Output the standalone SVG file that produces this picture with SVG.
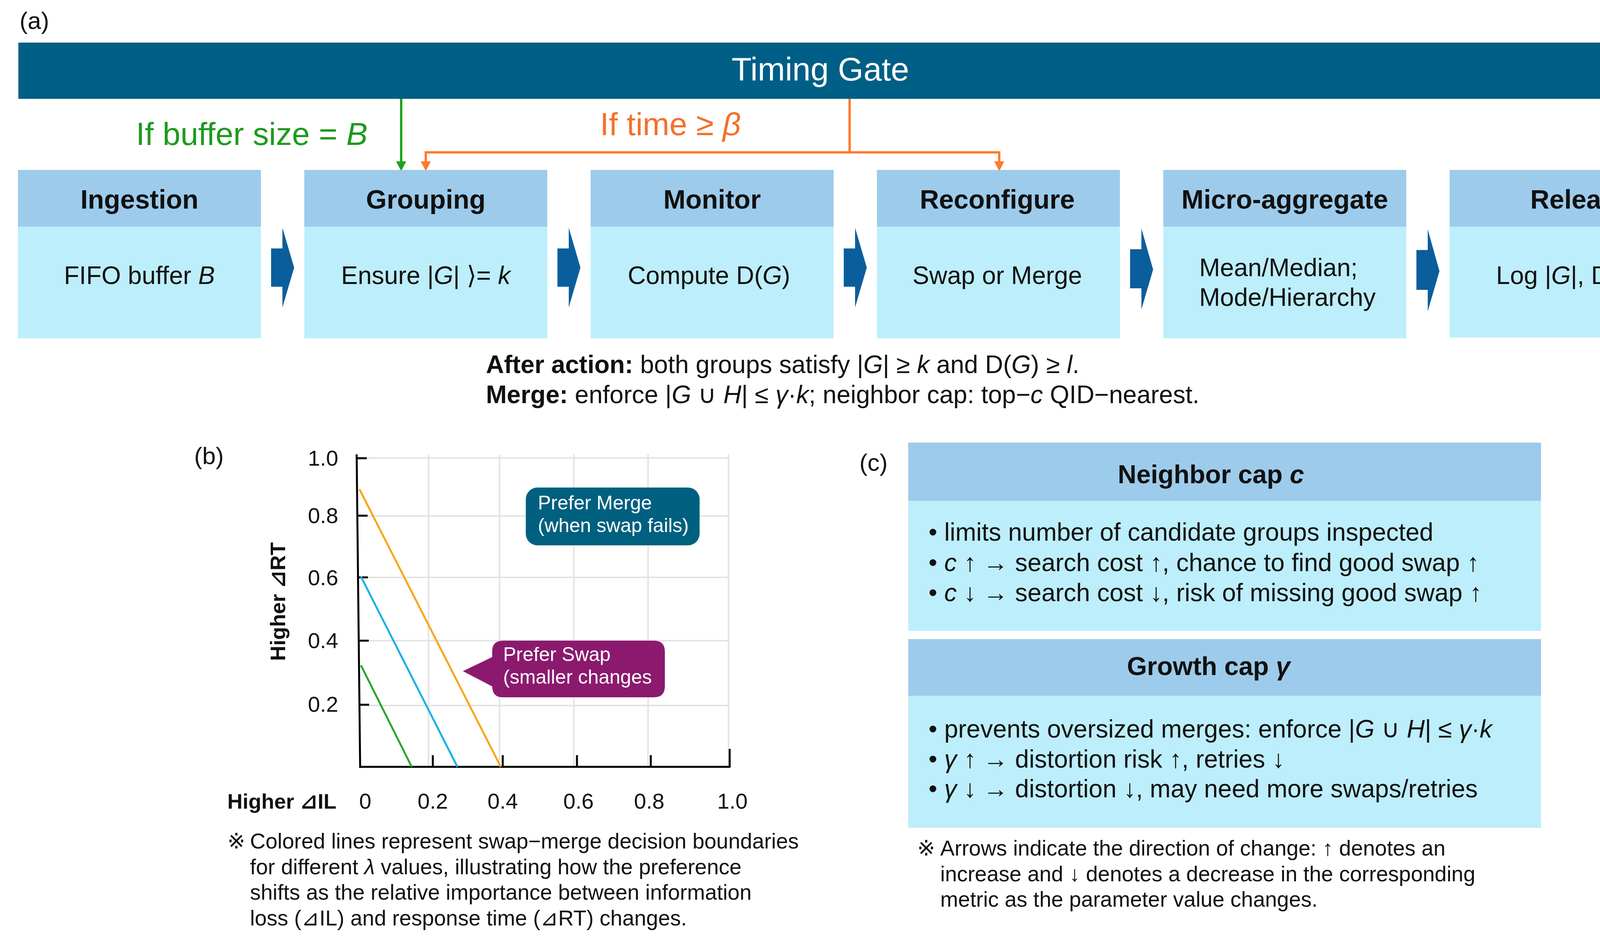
<svg xmlns="http://www.w3.org/2000/svg" width="4365" height="2396" viewBox="0 0 4365 2396">
<defs>
<style>
text{font-family:"Liberation Sans","DejaVu Sans","Noto Sans CJK JP",sans-serif;fill:#111}
.hdr{fill:#9dcbeb}
.bdy{fill:#bdeefb}
.ttl{font-size:68px;font-weight:bold;text-anchor:middle}
.bt{font-size:64px;text-anchor:middle}
.btl{font-size:64px}
.chev{fill:#0b5e9c}
.it{font-style:italic}
.pl{font-size:62px}
.cap{font-size:64px}
.note{font-size:55px}
.grid{stroke:#e4e4e4;stroke-width:4;fill:none}
.axis{stroke:#000;stroke-width:5;fill:none}
.tick{font-size:56px}
.call{font-size:50px;fill:#fff}
</style>
<marker id="hg" markerUnits="userSpaceOnUse" markerWidth="26" markerHeight="26" viewBox="0 0 26 26" refX="0" refY="13" orient="auto"><path d="M0,0 L25,13 L0,26 z" fill="#1ea31e"/></marker>
<marker id="ho" markerUnits="userSpaceOnUse" markerWidth="26" markerHeight="26" viewBox="0 0 26 26" refX="0" refY="13" orient="auto"><path d="M0,0 L25,13 L0,26 z" fill="#ff7a2c"/></marker>
</defs>
<rect width="4365" height="2396" fill="#fff"/>

<!-- Panel (a) -->
<text class="pl" x="50" y="74">(a)</text>

<g id="timing-gate">
<rect x="47" y="109" width="4288" height="144" fill="#005f86"/>
<text x="2100" y="206" font-size="84" text-anchor="middle" style="fill:#fff">Timing Gate</text>
</g>

<g id="connectors">
<path d="M1027,253 V413" stroke="#1ea31e" stroke-width="6" fill="none" marker-end="url(#hg)"/>
<path d="M2175,253 V390 H1090 V413" stroke="#ff7a2c" stroke-width="6" fill="none" marker-end="url(#ho)"/>
<path d="M2175,390 H2558 V413" stroke="#ff7a2c" stroke-width="6" fill="none" marker-end="url(#ho)"/>
<polygon class="chev" points="694,636 723,636 723,583 753,685 723,787 723,734 694,734"/>
<polygon class="chev" points="1427,636 1456,636 1456,583 1486,685 1456,787 1456,734 1427,734"/>
<polygon class="chev" points="2160,636 2189,636 2189,583 2219,685 2189,787 2189,734 2160,734"/>
<polygon class="chev" points="2893,638 2922,638 2922,585 2952,690 2922,792 2922,738 2893,738"/>
<polygon class="chev" points="3626,640 3655,640 3655,587 3685,694 3655,797 3655,742 3626,742"/>
</g>

<g id="cond-labels">
<text x="348" y="371" font-size="82" style="fill:#1e9a1e">If buffer size = <tspan class="it">B</tspan></text>
<text x="1536" y="346" font-size="82" style="fill:#f4702a">If time ≥ <tspan class="it">β</tspan></text>
</g>

<g id="ingestion">
<rect class="hdr" x="46" y="435" width="622" height="145"/>
<rect class="bdy" x="46" y="580" width="622" height="286"/>
<text class="ttl" x="357" y="534">Ingestion</text>
<text class="bt" x="357" y="727">FIFO buffer <tspan class="it">B</tspan></text>
</g>
<g id="grouping">
<rect class="hdr" x="779" y="435" width="622" height="145"/>
<rect class="bdy" x="779" y="580" width="622" height="286"/>
<text class="ttl" x="1090" y="534">Grouping</text>
<text class="bt" x="1090" y="727">Ensure |<tspan class="it">G</tspan>| ⟩= <tspan class="it">k</tspan></text>
</g>
<g id="monitor">
<rect class="hdr" x="1512" y="435" width="622" height="145"/>
<rect class="bdy" x="1512" y="580" width="622" height="286"/>
<text class="ttl" x="1823" y="534">Monitor</text>
<text class="bt" x="1815" y="727">Compute D(<tspan class="it">G</tspan>)</text>
</g>
<g id="reconfigure">
<rect class="hdr" x="2245" y="435" width="622" height="145"/>
<rect class="bdy" x="2245" y="580" width="622" height="286"/>
<text class="ttl" x="2553" y="534">Reconfigure</text>
<text class="bt" x="2553" y="727">Swap or Merge</text>
</g>
<g id="micro-aggregate">
<rect class="hdr" x="2978" y="435" width="622" height="145"/>
<rect class="bdy" x="2978" y="580" width="622" height="286"/>
<text class="ttl" x="3289" y="534">Micro-aggregate</text>
<text class="btl" x="3070" y="707">Mean/Median;</text>
<text class="btl" x="3070" y="783">Mode/Hierarchy</text>
</g>
<g id="release">
<rect class="hdr" x="3711" y="435" width="624" height="145"/>
<rect class="bdy" x="3711" y="580" width="624" height="284"/>
<text class="ttl" x="4046" y="534">Release</text>
<text class="bt" x="4021" y="727">Log |<tspan class="it">G</tspan>|, D(<tspan class="it">G</tspan>)</text>
</g>

<g id="after-action">
<text class="cap" x="1244" y="955"><tspan font-weight="bold">After action:</tspan> both groups satisfy |<tspan class="it">G</tspan>| ≥ <tspan class="it">k</tspan> and D(<tspan class="it">G</tspan>) ≥ <tspan class="it">l</tspan>.</text>
<text class="cap" x="1244" y="1032"><tspan font-weight="bold">Merge:</tspan> enforce |<tspan class="it">G</tspan> ∪ <tspan class="it">H</tspan>| ≤ <tspan class="it">γ</tspan>·<tspan class="it">k</tspan>; neighbor cap: top−<tspan class="it">c</tspan> QID−nearest.</text>
</g>

<!-- Panel (b) -->
<g id="panel-b">
<text class="pl" x="497" y="1188">(b)</text>
<g id="grid">
<path class="grid" d="M1097,1163 V1963 M1279,1163 V1963 M1469,1163 V1963 M1659,1163 V1963 M1865,1163 V1963"/>
<path class="grid" d="M924,1172 H1866 M924,1321 H1866 M924,1478 H1866 M924,1640 H1866 M924,1806 H1866"/>
</g>
<g id="axes">
<path class="axis" d="M913,1163 L922,1966 M920,1963 H1870"/>
<path class="axis" d="M915,1173 H939 M917,1320 H941 M918,1478 H942 M920,1640 H944 M921,1804 H945"/>
<path class="axis" d="M1108,1933 V1963 M1287,1933 V1963 M1477,1933 V1963 M1666,1933 V1963 M1868,1917 V1963"/>
</g>
<g id="boundaries">
<line x1="920" y1="1252" x2="1282" y2="1963" stroke="#f9a51a" stroke-width="5"/>
<line x1="924" y1="1476" x2="1171" y2="1963" stroke="#1ab2e6" stroke-width="5"/>
<line x1="924" y1="1703" x2="1054" y2="1963" stroke="#2aa62a" stroke-width="5"/>
</g>
<g id="y-labels" text-anchor="end">
<text class="tick" x="866" y="1192">1.0</text>
<text class="tick" x="866" y="1339">0.8</text>
<text class="tick" x="866" y="1498">0.6</text>
<text class="tick" x="866" y="1659">0.4</text>
<text class="tick" x="866" y="1822">0.2</text>
</g>
<text transform="translate(730,1540) rotate(-90)" font-size="54" font-weight="bold" text-anchor="middle">Higher ⊿RT</text>
<g id="x-labels" text-anchor="middle">
<text class="tick" x="935" y="2070">0</text>
<text class="tick" x="1108" y="2070">0.2</text>
<text class="tick" x="1287" y="2070">0.4</text>
<text class="tick" x="1481" y="2070">0.6</text>
<text class="tick" x="1662" y="2070">0.8</text>
<text class="tick" x="1875" y="2070">1.0</text>
</g>
<text x="582" y="2070" font-size="54" font-weight="bold">Higher ⊿IL</text>
<g id="prefer-merge">
<rect x="1346" y="1248" width="445" height="148" rx="30" fill="#00607f"/>
<text class="call" x="1377" y="1304">Prefer Merge</text>
<text class="call" x="1377" y="1362">(when swap fails)</text>
</g>
<g id="prefer-swap">
<path d="M1288,1640 H1674 Q1702,1640 1702,1668 V1757 Q1702,1785 1674,1785 H1288 Q1260,1785 1260,1757 L1185,1718 L1260,1682 V1668 Q1260,1640 1288,1640 Z" fill="#8b1a6f"/>
<text class="call" x="1288" y="1692">Prefer Swap</text>
<text class="call" x="1288" y="1750">(smaller changes</text>
</g>
<g id="note-b">
<text class="note" x="582" y="2172">※</text>
<text class="note" x="640" y="2172">Colored lines represent swap−merge decision boundaries</text>
<text class="note" x="640" y="2238">for different <tspan class="it">λ</tspan> values, illustrating how the preference</text>
<text class="note" x="640" y="2303">shifts as the relative importance between information</text>
<text class="note" x="640" y="2369">loss (⊿IL) and response time (⊿RT) changes.</text>
</g>
</g>

<!-- Panel (c) -->
<g id="panel-c">
<text class="pl" x="2200" y="1205">(c)</text>
<g id="neighbor-cap">
<rect class="hdr" x="2325" y="1133" width="1620" height="149"/>
<rect class="bdy" x="2325" y="1282" width="1620" height="333"/>
<text x="3100" y="1237" font-size="66" font-weight="bold" text-anchor="middle">Neighbor cap <tspan class="it">c</tspan></text>
<text class="cap" x="2377" y="1384">• limits number of candidate groups inspected</text>
<text class="cap" x="2377" y="1462">• <tspan class="it">c</tspan> ↑ → search cost ↑, chance to find good swap ↑</text>
<text class="cap" x="2377" y="1539">• <tspan class="it">c</tspan> ↓ → search cost ↓, risk of missing good swap ↑</text>
</g>
<g id="growth-cap">
<rect class="hdr" x="2325" y="1636" width="1620" height="145"/>
<rect class="bdy" x="2325" y="1781" width="1620" height="338"/>
<text x="3094" y="1728" font-size="66" font-weight="bold" text-anchor="middle">Growth cap <tspan class="it">γ</tspan></text>
<text class="cap" x="2377" y="1888">• prevents oversized merges: enforce |<tspan class="it">G</tspan> ∪ <tspan class="it">H</tspan>| ≤ <tspan class="it">γ</tspan>·<tspan class="it">k</tspan></text>
<text class="cap" x="2377" y="1965">• <tspan class="it">γ</tspan> ↑ → distortion risk ↑, retries ↓</text>
<text class="cap" x="2377" y="2041">• <tspan class="it">γ</tspan> ↓ → distortion ↓, may need more swaps/retries</text>
</g>
<g id="note-c">
<text class="note" x="2348" y="2190">※</text>
<text class="note" x="2407" y="2190">Arrows indicate the direction of change: ↑ denotes an</text>
<text class="note" x="2407" y="2256">increase and ↓ denotes a decrease in the corresponding</text>
<text class="note" x="2407" y="2321">metric as the parameter value changes.</text>
</g>
</g>
</svg>
